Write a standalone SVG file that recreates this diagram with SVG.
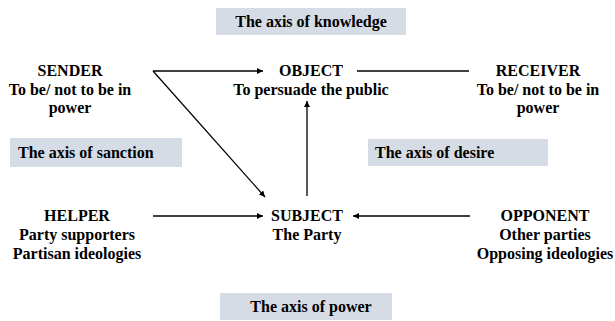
<svg xmlns="http://www.w3.org/2000/svg" width="615" height="321" viewBox="0 0 615 321">
<style>
text{font-family:"Liberation Serif","Times New Roman",serif;font-weight:bold;font-size:16px;fill:#000}
.c{text-anchor:middle}
.box{fill:#d6dce5}
.ln{stroke:#000;stroke-width:1.3;fill:none}
</style>
<defs>
<marker id="ah" viewBox="0 0 10 10" refX="10" refY="5" markerWidth="6" markerHeight="6" markerUnits="userSpaceOnUse" orient="auto"><path d="M0,0L10,5L0,10z" fill="#000"/></marker>
</defs>
<rect width="615" height="321" fill="#fff"/>
<g id="axis-knowledge"><rect class="box" x="216" y="8" width="190" height="27"/><text class="c" x="311" y="27">The axis of knowledge</text></g>
<g id="axis-sanction"><rect class="box" x="10" y="138" width="172" height="29"/><text x="18" y="158">The axis of sanction</text></g>
<g id="axis-desire"><rect class="box" x="368" y="139" width="180" height="27"/><text x="375" y="158">The axis of desire</text></g>
<g id="axis-power"><rect class="box" x="220" y="293" width="172" height="27"/><text class="c" x="311" y="312">The axis of power</text></g>
<g id="sender"><text class="c" x="70" y="76">SENDER</text><text class="c" x="70" y="95">To be/ not to be in</text><text class="c" x="70" y="113">power</text></g>
<g id="object"><text class="c" x="311" y="76">OBJECT</text><text class="c" x="311" y="95">To persuade the public</text></g>
<g id="receiver"><text class="c" x="538" y="76">RECEIVER</text><text class="c" x="538" y="95">To be/ not to be in</text><text class="c" x="538" y="113">power</text></g>
<g id="helper"><text class="c" x="77" y="221">HELPER</text><text class="c" x="77" y="240">Party supporters</text><text class="c" x="77" y="259">Partisan ideologies</text></g>
<g id="subject"><text class="c" x="307" y="221">SUBJECT</text><text class="c" x="307" y="240">The Party</text></g>
<g id="opponent"><text class="c" x="545" y="221">OPPONENT</text><text class="c" x="545" y="240">Other parties</text><text class="c" x="545" y="259">Opposing ideologies</text></g>
<g id="connectors">
<line class="ln" x1="153" y1="71" x2="263" y2="71" marker-end="url(#ah)"/>
<line class="ln" x1="357" y1="71" x2="469" y2="71"/>
<line class="ln" x1="153" y1="71" x2="265" y2="197" marker-end="url(#ah)"/>
<line class="ln" x1="307" y1="196" x2="307" y2="101" marker-end="url(#ah)"/>
<line class="ln" x1="153" y1="216" x2="263" y2="216" marker-end="url(#ah)"/>
<line class="ln" x1="470" y1="216" x2="353" y2="216" marker-end="url(#ah)"/>
</g>
</svg>
